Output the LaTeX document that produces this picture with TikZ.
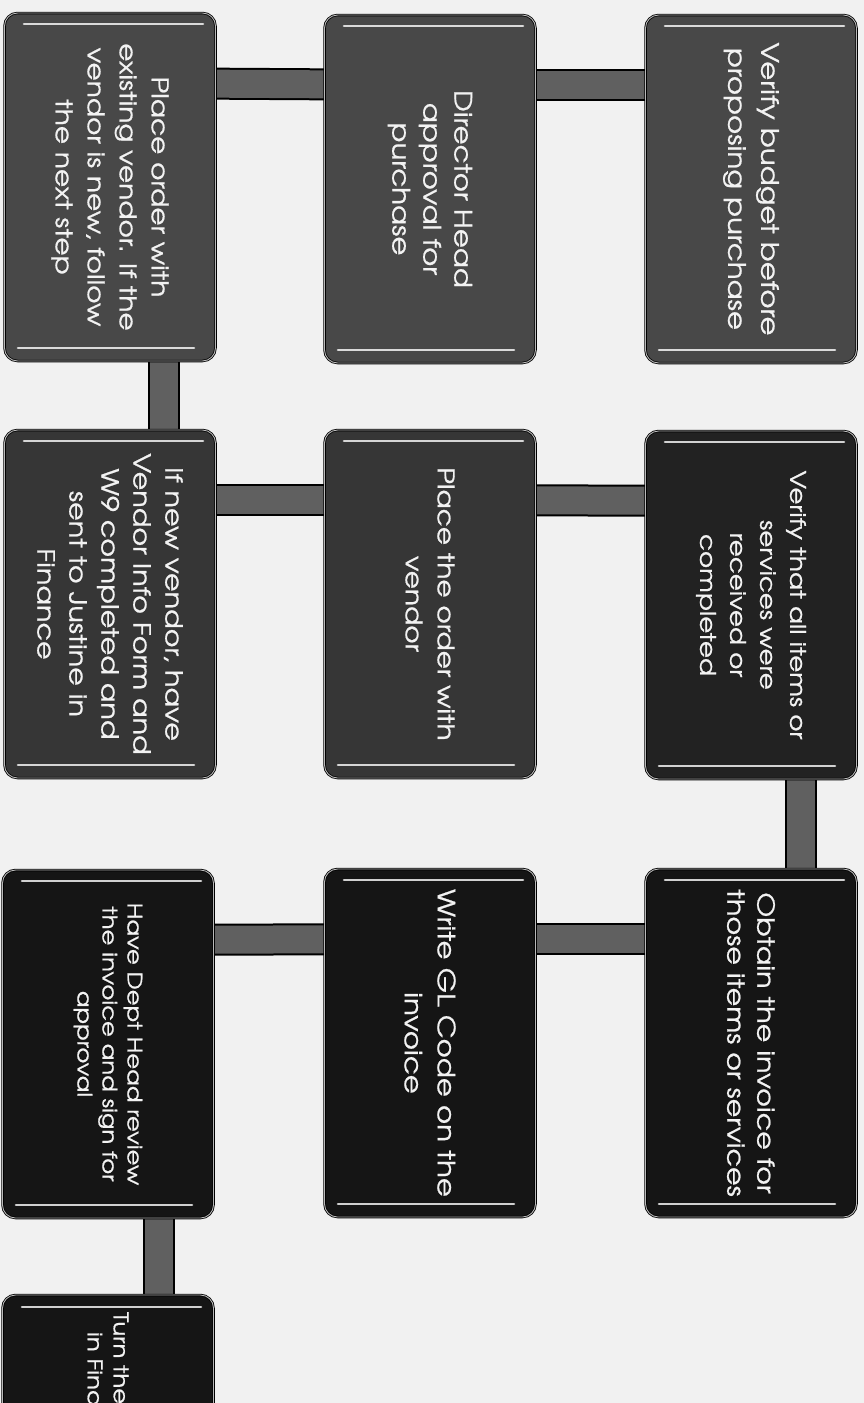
\documentclass[tikz,border=0pt]{standalone}
\usepackage{fontspec}
\setmainfont[FakeStretch=1.22,FakeBold=0.8]{TeX Gyre Adventor}
\usetikzlibrary{calc,backgrounds}
\definecolor{bgc}{HTML}{F1F1F1}
\definecolor{rowa}{HTML}{484848}
\definecolor{rowb}{HTML}{363636}
\definecolor{rowc}{HTML}{222222}
\definecolor{rowd}{HTML}{151515}
\definecolor{barc}{HTML}{606060}
\definecolor{txt}{HTML}{F2F2F2}
\newcommand\glossy[1]{%
  \draw[gloss] ($(#1.center)+(-86,-163)$) -- ($(#1.center)+(93,-163)$);
  \draw[gloss] ($(#1.center)+(-92,161)$) -- ($(#1.center)+(84,161)$);}
\newcommand\fsz[2]{\fontsize{#1}{#2}\selectfont}
\begin{document}
\begin{tikzpicture}[x=1pt,y=-1pt,
 stepbox/.style={rectangle, rotate=-90, rounded corners=13pt, minimum width=348pt, minimum height=211pt, inner sep=0pt, draw=black, line width=0.8pt, double=gray!55, double distance=0.9pt, text=txt, align=center},
 gloss/.style={draw=white, line width=2.6pt, line cap=round, opacity=0.8},
 barout/.style={draw=black, line width=32pt},
 barin/.style={draw=barc, line width=28pt}]
\useasboundingbox (0,0) rectangle (864,1403);
\clip (0,0) rectangle (864,1403);
% row 1
\node[stepbox, fill=rowa, font=\fsz{24}{33}] (n1) at (751,189) {Verify budget before\\proposing purchase};
\node[stepbox, fill=rowa, font=\fsz{24}{31}] (n2) at (430,189) {Director Head\\approval for\\purchase};
\node[stepbox, fill=rowa, font=\fsz{23}{32}] (n3) at (110,187) {Place order with\\existing vendor. If the\\vendor is new, follow\\the next step};
% row 2
\node[stepbox, fill=rowb, font=\fsz{23.5}{32}] (n4) at (110,604) {If new vendor, have\\Vendor Info Form and\\W9 completed and\\sent to Justine in\\Finance};
\node[stepbox, fill=rowb, font=\fsz{23}{32}] (n5) at (430,604) {Place the order with\\vendor};
\node[stepbox, fill=rowc, font=\fsz{21.5}{30}] (n6) at (751,605) {Verify that all items or\\services were\\received or\\completed};
% row 3
\node[stepbox, fill=rowd, font=\fsz{23.5}{30}] (n7) at (751,1043) {Obtain the invoice for\\those items or services};
\node[stepbox, fill=rowd, font=\fsz{24}{33}] (n8) at (430,1043) {Write GL Code on the\\invoice};
\node[stepbox, fill=rowd, font=\fsz{20}{25}] (n9) at (108,1044) {Have Dept Head review\\the invoice and sign for\\approval};
% row 4
\node[stepbox, fill=rowd, font=\fsz{20}{26}, align=left, text width=316pt, inner xsep=17pt] (n10) at (108,1470) {Turn the\\\hspace*{20pt}in Fina};
\foreach \n in {n1,n2,n3,n4,n5,n6,n7,n8,n9,n10} {\glossy{\n}}
\begin{pgfonlayer}{background}
\fill[bgc] (0,0) rectangle (864,1403);
\foreach \a/\b in {n1/n2,n2/n3,n4/n5,n5/n6,n7/n8,n8/n9} {
  \draw[barout] ($(\a.center)+(0,-104)$) -- ($(\b.center)+(0,-104)$);
  \draw[barin] ($(\a.center)+(0,-104)$) -- ($(\b.center)+(0,-104)$);
}
\draw[barout] ($(n3.center)+(54,0)$) -- ($(n4.center)+(54,0)$);
\draw[barin] ($(n3.center)+(54,0)$) -- ($(n4.center)+(54,0)$);
\draw[barout] ($(n6.center)+(50,0)$) -- ($(n7.center)+(50,0)$);
\draw[barin] ($(n6.center)+(50,0)$) -- ($(n7.center)+(50,0)$);
\draw[barout] ($(n9.center)+(51,0)$) -- ($(n10.center)+(51,0)$);
\draw[barin] ($(n9.center)+(51,0)$) -- ($(n10.center)+(51,0)$);
\end{pgfonlayer}
\end{tikzpicture}
\end{document}
